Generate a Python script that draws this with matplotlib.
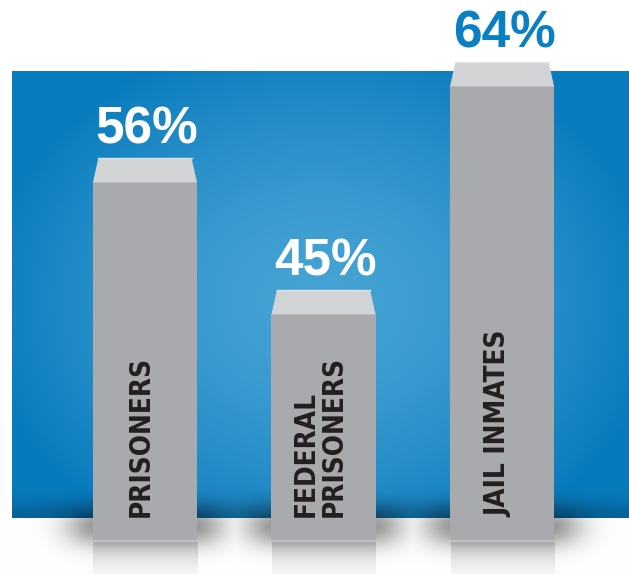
import numpy as np
import matplotlib.pyplot as plt
from matplotlib.patches import Polygon

# Data
categories = ["PRISONERS", "FEDERAL\nPRISONERS", "JAIL INMATES"]
values = [56, 45, 64]
value_labels = ["56%", "45%", "64%"]
label_colors = ["white", "white", "#0a7fc2"]

W, H = 629, 574
fig = plt.figure(figsize=(W / 100, H / 100), dpi=100)
ax = fig.add_axes([0, 0, 1, 1])
ax.axis("off")

x = np.arange(len(values))
bar_w = 0.583
base = 26.2          # bars grow from here (value scale)
ax.set_xlim(-0.812, 2.711)
ax.set_ylim(23.37, 71.2)

# ==============================
# Background: blue panel with radial glow, shadows, reflections
# ==============================
Y, X = np.mgrid[0:H, 0:W].astype(float)
img = np.ones((H, W, 3))

light = np.array([0x45, 0xa2, 0xd4]) / 255
dark = np.array([0x08, 0x7b, 0xbe]) / 255
t = np.sqrt(((X - 320) / 340) ** 2 + ((Y - 300) / 270) ** 2)
t = np.clip(t, 0, 1) ** 1.6
blue = light[None, None, :] * (1 - t[..., None]) + dark[None, None, :] * t[..., None]
# panel gets darker along its lower edge
edge = 0.2 * np.exp(-((517 - Y) / 16) ** 2)
blue = blue * (1 - edge[..., None])
inside = (X >= 12) & (Y >= 71) & (Y <= 517)
img[inside] = blue[inside]

alpha = np.zeros((H, W))
for xi in x:
    x0, yb = ax.transData.transform((xi - bar_w / 2, base))
    x1, _ = ax.transData.transform((xi + bar_w / 2, base))
    yb = H - yb
    # reflection under the bar
    refl = (X >= x0) & (X <= x1) & (Y > yb + 1)
    g = 0.82 + 0.15 * np.clip((Y - yb) / (H - yb), 0, 1) ** 0.7
    img[refl] = np.minimum(img[refl], g[refl][:, None])
    # soft drop shadow around the foot of the bar
    dx = np.maximum.reduce([x0 + 4 - X, np.zeros_like(X), X - (x1 - 4)])
    a = 0.4 * np.exp(-(dx / 32) ** 2) * np.exp(-((Y - (yb - 14)) / 20) ** 2)
    alpha = np.maximum(alpha, a)
img = img * (1 - alpha[..., None])
ax.imshow(img, extent=(0, 1, 0, 1), transform=ax.transAxes, aspect="auto",
          zorder=0, interpolation="bilinear")

# ==============================
# Bars with light top face
# ==============================
heights = np.array(values) - base
ax.bar(x, heights, bottom=base, width=bar_w, color="#a9aaad",
       edgecolor="none", zorder=3)

depth = 2.0
inset = 0.03
for xi, v in zip(x, values):
    l, r = xi - bar_w / 2, xi + bar_w / 2
    face = Polygon([(l, v), (r, v), (r - inset, v + depth), (l + inset, v + depth)],
                   closed=True, facecolor="#d2d3d5", edgecolor="none", zorder=4)
    ax.add_patch(face)
    ax.plot([l + inset, r - inset], [v + depth, v + depth], color="#e2e3e5",
            lw=1, zorder=5)

# percentage labels
for xi, v, lab, c in zip(x, values, value_labels, label_colors):
    ax.annotate(lab, (xi, v + depth), xytext=(2, 15), textcoords="offset pixels",
                ha="center", va="baseline", fontsize=37, color=c,
                family="Liberation Sans", fontweight="bold", zorder=6)

# category labels inside bars
for xi, cat in zip(x, categories):
    ax.annotate(cat, (xi, base), xytext=(-4, 23), textcoords="offset pixels",
                rotation=90, ha="center", va="bottom", fontsize=20,
                color="#231f20", family="DejaVu Sans", fontstretch="condensed",
                fontweight="bold", linespacing=1.0, multialignment="left",
                zorder=6)

fig.savefig("out.png", dpi=100)
